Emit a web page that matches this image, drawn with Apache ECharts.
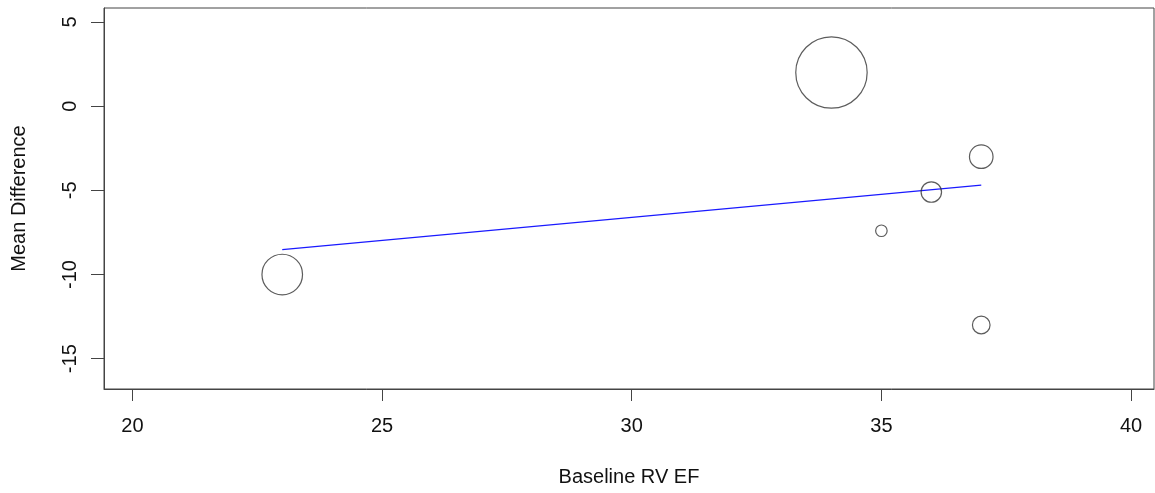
<!DOCTYPE html>
<html lang="en">
  <head>
    <meta charset="UTF-8" />
    <title>Bubble plot</title>
    <script src="https://cdn.jsdelivr.net/npm/echarts@6/dist/echarts.min.js"></script>
    <style>
      html, body { margin: 0; padding: 0; background: #fff; }
      #main { width: 1155px; height: 493px; }
    </style>
  </head>
  <body>
    <div id="main"></div>
    <script>
      // study points: baseline RV EF vs mean difference, bubble = weight
      var baselineEF = [23, 34, 37, 36, 35, 37];
      var meanDiff = [-10, 2, -3, -5.1, -7.4, -13];
      var weights = [32.3, 100, 10.9, 8.2, 2.6, 6.1];

      // fitted regression line (ends)
      var lineX = [23, 37];
      var lineY = [-8.52, -4.69];

      var xTicks = [20, 25, 30, 35, 40];
      var yTicks = [-15, -10, -5, 0, 5];

      var font = '"Liberation Sans", Arial, sans-serif';
      var axisCol = '#444';

      var pts = baselineEF.map(function (x, i) { return [x, meanDiff[i], weights[i]]; });
      var line = lineX.map(function (x, i) { return [x, lineY[i]]; });

      var myChart = echarts.init(document.getElementById('main'));
      var option = {
        backgroundColor: '#fff',
        animation: false,
        grid: {
          left: 104, top: 8, width: 1050, height: 381,
          outerBoundsMode: 'none', containLabel: false,
          show: true, borderColor: axisCol, borderWidth: 1, backgroundColor: 'transparent'
        },
        xAxis: {
          type: 'value',
          min: 19.43,
          max: 40.46,
          name: 'Baseline RV EF',
          nameLocation: 'middle',
          nameGap: 78,
          nameTextStyle: { fontFamily: font, fontSize: 20, color: '#111' },
          axisLine: { show: true, onZero: false, lineStyle: { color: axisCol } },
          axisTick: { show: true, length: 12, customValues: xTicks, lineStyle: { color: axisCol } },
          splitLine: { show: false },
          axisLabel: {
            margin: 27,
            fontFamily: font, fontSize: 20, color: '#111',
            customValues: xTicks
          }
        },
        yAxis: {
          type: 'value',
          min: -16.8,
          max: 5.83,
          name: 'Mean Difference',
          nameLocation: 'middle',
          nameGap: 75,
          nameTextStyle: { fontFamily: font, fontSize: 20, color: '#111' },
          axisLine: { show: true, onZero: false, lineStyle: { color: axisCol } },
          axisTick: { show: true, length: 13, customValues: yTicks, lineStyle: { color: axisCol } },
          splitLine: { show: false },
          axisLabel: {
            rotate: 90,
            margin: 24,
            fontFamily: font, fontSize: 20, color: '#111',
            customValues: yTicks
          }
        },
        series: [
          {
            type: 'scatter',
            data: pts,
            symbol: 'circle',
            symbolSize: function (d) { return 7.14 * Math.sqrt(d[2]); },
            itemStyle: { color: 'rgba(0,0,0,0)', borderColor: '#333', borderWidth: 1.2 },
            emphasis: { disabled: true },
            z: 3
          },
          {
            type: 'line',
            data: line,
            showSymbol: false,
            lineStyle: { color: '#1a1aff', width: 1.2 },
            emphasis: { disabled: true },
            z: 2
          }
        ]
      };
      myChart.setOption(option);
    </script>
  </body>
</html>
